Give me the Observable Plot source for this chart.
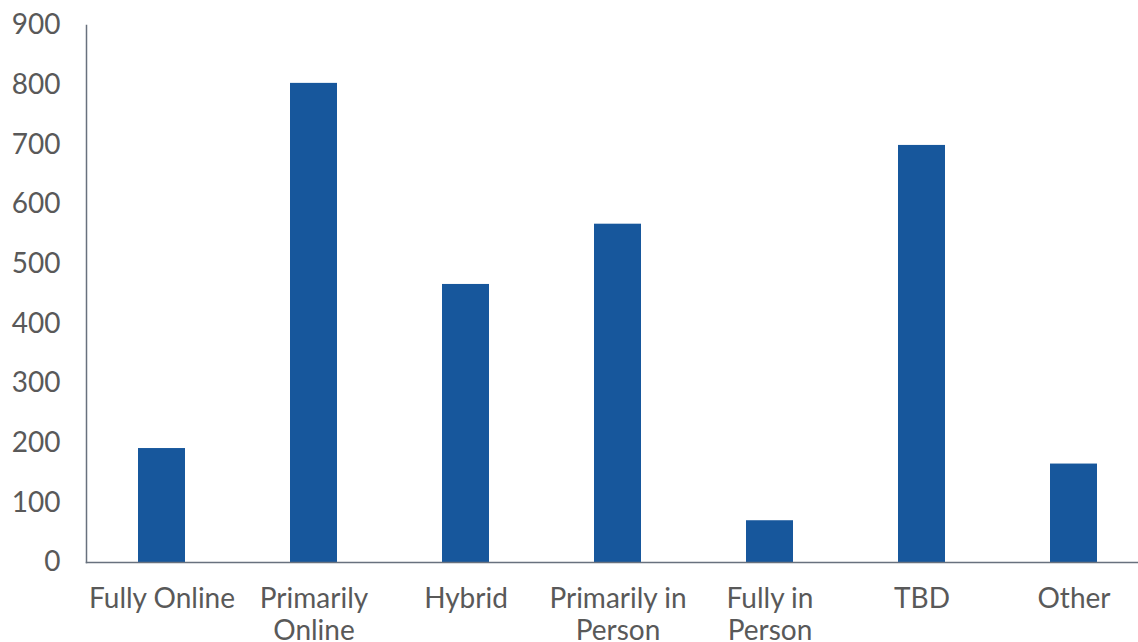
<!DOCTYPE html>
<html>
<head>
<meta charset="utf-8">
<script src="https://cdn.jsdelivr.net/npm/d3@7"></script>
<script src="https://cdn.jsdelivr.net/npm/@observablehq/plot@0.6"></script>
<style>
  html, body { margin: 0; padding: 0; background: #fff; }
  #chart svg { display: block; }
</style>
</head>
<body>
<div id="chart"></div>
<script>
const categories = ["Fully Online", "Primarily Online", "Hybrid", "Primarily in Person", "Fully in Person", "TBD", "Other"];
const tickLabels = ["Fully Online", "Primarily\nOnline", "Hybrid", "Primarily in\nPerson", "Fully in\nPerson", "TBD", "Other"];
const values = [191, 803, 466, 567, 70, 699, 165];
const yTicks = [0, 100, 200, 300, 400, 500, 600, 700, 800, 900];

const data = categories.map((c, i) => ({category: c, value: values[i]}));
const labelOf = new Map(categories.map((c, i) => [c, tickLabels[i]]));

const chart = Plot.plot({
  width: 1138,
  height: 642,
  marginLeft: 86,
  marginRight: -12,
  marginTop: 25,
  marginBottom: 80,
  style: {fontFamily: "Lato, 'Open Sans', sans-serif", color: "#595959", background: "#fff"},
  x: {domain: categories, paddingInner: 0.69, paddingOuter: 0.345},
  y: {domain: [0, 900]},
  marks: [
    Plot.barY(data, {x: "category", y: "value", fill: "#17579c"}),
    Plot.frame({anchor: "left", stroke: "#68717e", strokeWidth: 1.5, strokeOpacity: 1}),
    Plot.frame({anchor: "bottom", stroke: "#68717e", strokeWidth: 1.5, strokeOpacity: 1}),
    Plot.axisY({ticks: yTicks, tickSize: 0, tickPadding: 26, fontSize: 28, label: null, fill: "#595959"}),
    Plot.axisX({tickSize: 0, tickPadding: 23, fontSize: 28, lineHeight: 1.14, label: null, fill: "#595959",
      tickFormat: d => labelOf.get(d)})
  ]
});
document.getElementById("chart").append(chart);
</script>
</body>
</html>
